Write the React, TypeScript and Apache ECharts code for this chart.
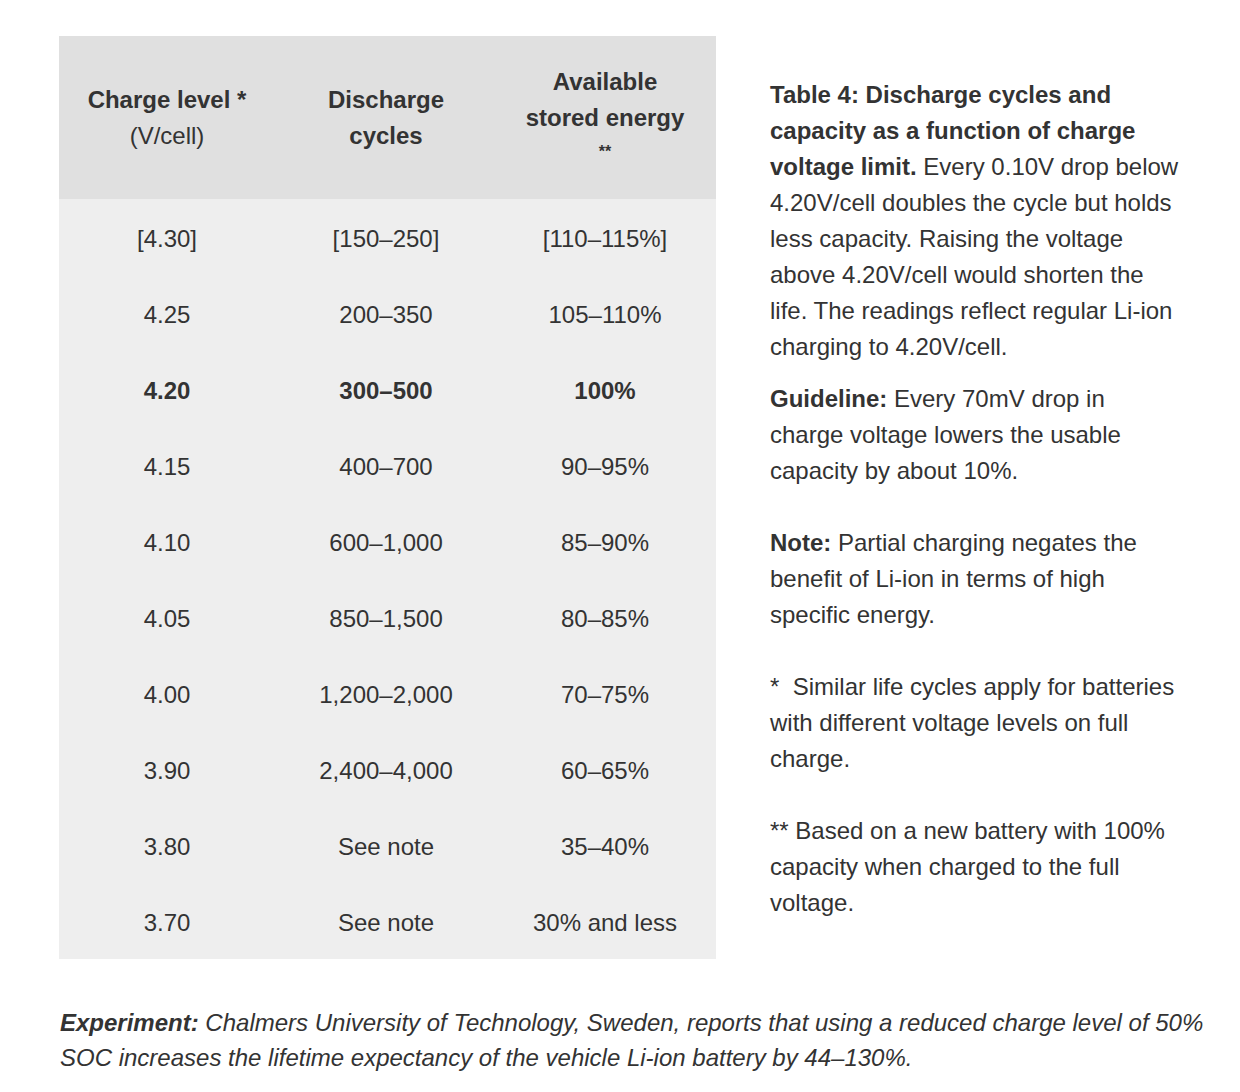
import React, { useEffect, useRef } from "react";
import * as echarts from "echarts";

const headers: string[][] = [
  ["Charge level *", "(V/cell)"],
  ["Discharge", "cycles"],
  ["Available", "stored energy", "**"],
];
const chargeLevels = ["[4.30]", "4.25", "4.20", "4.15", "4.10", "4.05", "4.00", "3.90", "3.80", "3.70"];
const dischargeCycles = ["[150–250]", "200–350", "300–500", "400–700", "600–1,000", "850–1,500", "1,200–2,000", "2,400–4,000", "See note", "See note"];
const storedEnergy = ["[110–115%]", "105–110%", "100%", "90–95%", "85–90%", "80–85%", "70–75%", "60–65%", "35–40%", "30% and less"];
const boldRow = 2;

// side notes: each line, with optional bold prefix
const sideLines: { b?: string; t?: string; y: number }[] = [
  { b: "Table 4: Discharge cycles and", y: 94 },
  { b: "capacity as a function of charge", y: 130 },
  { b: "voltage limit.", t: " Every 0.10V drop below", y: 166 },
  { t: "4.20V/cell doubles the cycle but holds", y: 202 },
  { t: "less capacity. Raising the voltage", y: 238 },
  { t: "above 4.20V/cell would shorten the", y: 274 },
  { t: "life. The readings reflect regular Li-ion", y: 310 },
  { t: "charging to 4.20V/cell.", y: 346 },
  { b: "Guideline:", t: " Every 70mV drop in", y: 398 },
  { t: "charge voltage lowers the usable", y: 434 },
  { t: "capacity by about 10%.", y: 470 },
  { b: "Note:", t: " Partial charging negates the", y: 542 },
  { t: "benefit of Li-ion in terms of high", y: 578 },
  { t: "specific energy.", y: 614 },
  { t: "*  Similar life cycles apply for batteries", y: 686 },
  { t: "with different voltage levels on full", y: 722 },
  { t: "charge.", y: 758 },
  { t: "** Based on a new battery with 100%", y: 830 },
  { t: "capacity when charged to the full", y: 866 },
  { t: "voltage.", y: 902 },
];

const footerLines: { b?: string; t?: string; y: number }[] = [
  { b: "Experiment:", t: " Chalmers University of Technology, Sweden, reports that using a reduced charge level of 50%", y: 1022 },
  { t: "SOC increases the lifetime expectancy of the vehicle Li-ion battery by 44–130%.", y: 1057 },
];

const FONT = "'Liberation Sans', Arial, Helvetica, sans-serif";
const COLOR = "#333333";
const FS = 24;

export default function App() {
  const ref = useRef<HTMLDivElement>(null);
  useEffect(() => {
    document.body.style.margin = "0";
    const chart = echarts.init(ref.current!, null, { renderer: "svg" });
    const elements: any[] = [];
    const tableLeft = 59;
    const tableRight = 716;
    const headTop = 36;
    const headBottom = 199;
    const bodyBottom = 959;
    elements.push({
      type: "rect",
      shape: { x: tableLeft, y: headTop, width: tableRight - tableLeft, height: headBottom - headTop },
      style: { fill: "#e0e0e0" },
    });
    elements.push({
      type: "rect",
      shape: { x: tableLeft, y: headBottom, width: tableRight - tableLeft, height: bodyBottom - headBottom },
      style: { fill: "#eeeeee" },
    });
    const colX = [167, 386, 605];
    const lh = 36;
    headers.forEach((lines, c) => {
      const center = (headTop + headBottom) / 2;
      const start = center - ((lines.length - 1) * lh) / 2;
      lines.forEach((line, i) => {
        const bold = !(c === 0 && i === 1);
        const star = line === "**";
        elements.push({
          type: "text",
          x: colX[c],
          y: star ? 143 : start + i * lh,
          style: {
            text: line,
            fill: COLOR,
            font: `${bold ? "bold " : ""}${star ? 16 : FS}px ${FONT}`,
            textAlign: "center",
            textVerticalAlign: star ? "top" : "middle",
          },
        });
      });
    });
    const rowH = 76;
    const firstRow = 238;
    const cols = [chargeLevels, dischargeCycles, storedEnergy];
    cols.forEach((col, c) => {
      col.forEach((val, r) => {
        elements.push({
          type: "text",
          x: colX[c],
          y: firstRow + r * rowH,
          style: {
            text: val,
            fill: COLOR,
            font: `${r === boldRow ? "bold " : ""}${FS}px ${FONT}`,
            textAlign: "center",
            textVerticalAlign: "middle",
          },
        });
      });
    });
    const richLine = (l: { b?: string; t?: string; y: number }, x: number, italic: boolean) => {
      const parts: string[] = [];
      if (l.b) parts.push(`{b|${l.b}}`);
      if (l.t) parts.push(`{n|${l.t}}`);
      const style = italic ? "italic" : "normal";
      return {
        type: "text",
        x,
        y: l.y,
        style: {
          text: parts.join(""),
          textAlign: "left",
          textVerticalAlign: "middle",
          rich: {
            b: { fontWeight: "bold", fontStyle: style, fontSize: FS, fontFamily: FONT, fill: COLOR, color: COLOR },
            n: { fontWeight: "normal", fontStyle: style, fontSize: FS, fontFamily: FONT, fill: COLOR, color: COLOR },
          },
        },
      };
    };
    sideLines.forEach((l) => elements.push(richLine(l, 770, false)));
    footerLines.forEach((l) => elements.push(richLine(l, 60, true)));

    chart.setOption({
      animation: false,
      backgroundColor: "#ffffff",
      graphic: { elements },
    });
    return () => chart.dispose();
  }, []);
  return <div ref={ref} style={{ width: 1240, height: 1092 }} />;
}
